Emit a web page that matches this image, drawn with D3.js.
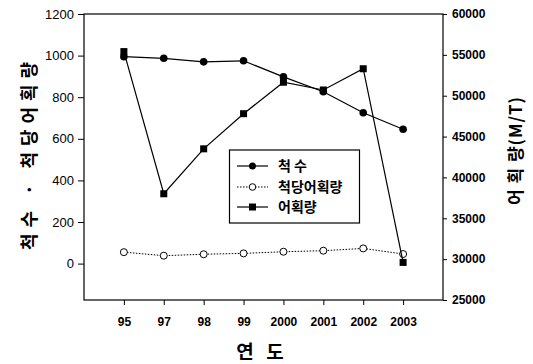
<!DOCTYPE html>
<html>
<head>
<meta charset="utf-8">
<script src="https://cdn.jsdelivr.net/npm/d3@7"></script>
<style>
  html, body { margin: 0; padding: 0; background: #fff; }
  svg { display: block; }
  .kr { font-family: "Noto Sans CJK KR", sans-serif; }
  .num { font-family: "Liberation Sans", Arial, sans-serif; }
</style>
</head>
<body>
<svg id="chart" width="533" height="364"></svg>
<script>
// Year labels along the x axis
const years = ["95", "97", "98", "99", "2000", "2001", "2002", "2003"];
// Number of vessels (left axis)
const vessels = [995, 987, 970, 975, 898, 826, 725, 646];
// Catch per vessel (left axis)
const catchPerVessel = [55, 38, 45, 49, 57, 62, 73, 46];
// Total catch in M/T (right axis)
const totalCatch = [55400, 38000, 43500, 47800, 51650, 50700, 53300, 29600];
// Tick values
const leftTicks = [0, 200, 400, 600, 800, 1000, 1200];
const rightTicks = [25000, 30000, 35000, 40000, 45000, 50000, 55000, 60000];
// Legend entries
const legendLabels = ["척 수", "척당어획량", "어획량"];

const svg = d3.select("#chart");
const plot = { left: 84, right: 443, top: 14, bottom: 300 };

const x = d3.scalePoint().domain(years).range([plot.left, plot.right]).padding(1);
const yL = d3.scaleLinear().domain([-175, 1200]).range([plot.bottom, plot.top]);
const yR = d3.scaleLinear().domain([25000, 60000]).range([plot.bottom, plot.top]);

// frame
svg.append("rect")
  .attr("x", plot.left).attr("y", plot.top)
  .attr("width", plot.right - plot.left).attr("height", plot.bottom - plot.top)
  .attr("fill", "none").attr("stroke", "#000").attr("stroke-width", 1.2);

// left axis
const gL = svg.append("g").attr("transform", `translate(${plot.left},0)`)
  .call(d3.axisLeft(yL).tickValues(leftTicks).tickFormat(d3.format("d")).tickSize(6).tickPadding(4));
gL.select(".domain").remove();
gL.selectAll("text").attr("class", "num").attr("font-size", 13).attr("fill", "#000");
gL.selectAll("line").attr("stroke", "#000");

// right axis
const gR = svg.append("g").attr("transform", `translate(${plot.right},0)`)
  .call(d3.axisRight(yR).tickValues(rightTicks).tickFormat(d3.format("d")).tickSize(4).tickPadding(5));
gR.select(".domain").remove();
gR.selectAll("text").attr("class", "num").attr("font-size", 12).attr("font-weight", "bold").attr("fill", "#000");
gR.selectAll("line").attr("stroke", "#000");

// bottom axis
const gB = svg.append("g").attr("transform", `translate(0,${plot.bottom})`)
  .call(d3.axisBottom(x).tickSize(5).tickPadding(12));
gB.select(".domain").remove();
gB.selectAll("text").attr("class", "num").attr("font-size", 12).attr("font-weight", "bold").attr("fill", "#000");
gB.selectAll("line").attr("stroke", "#000");

// vertical title spread between two y positions (reading bottom to top)
function verticalTitle(label, cx, yStart, yEnd, size) {
  const t = svg.append("text").attr("class", "kr")
    .attr("transform", `translate(${cx},${yStart}) rotate(-90)`)
    .attr("text-anchor", "start").attr("dy", "0.35em")
    .attr("font-size", size).attr("font-weight", "bold")
    .text(label);
  const natural = t.node().getComputedTextLength();
  const n = Array.from(label).length;
  const gap = Math.max(0, (yStart - yEnd - natural) / (n - 1));
  t.attr("letter-spacing", gap);
  return t;
}
verticalTitle("척수 · 척당어획량", 30, 250, 62, 18);
verticalTitle("어 획 량(M/T)", 516, 205, 97, 17);

svg.append("text").attr("class", "kr")
  .attr("x", 262).attr("y", 359)
  .attr("text-anchor", "middle").attr("font-size", 19).attr("font-weight", "bold")
  .attr("letter-spacing", 4)
  .text("연 도");

const line = (vals, ys) => d3.line().x((d, i) => x(years[i])).y(d => ys(d))(vals);

// catch per vessel: dotted line, open circles
svg.append("path").attr("d", line(catchPerVessel, yL))
  .attr("fill", "none").attr("stroke", "#000").attr("stroke-width", 1).attr("stroke-dasharray", "1.5,1.5");
svg.selectAll(".cpv").data(catchPerVessel).enter().append("circle")
  .attr("cx", (d, i) => x(years[i])).attr("cy", d => yL(d)).attr("r", 3.5)
  .attr("fill", "#fff").attr("stroke", "#000").attr("stroke-width", 1);

// vessels: solid line, filled circles
svg.append("path").attr("d", line(vessels, yL))
  .attr("fill", "none").attr("stroke", "#000").attr("stroke-width", 1.2);
svg.selectAll(".ves").data(vessels).enter().append("circle")
  .attr("cx", (d, i) => x(years[i])).attr("cy", d => yL(d)).attr("r", 3.8)
  .attr("fill", "#000");

// total catch: solid line, filled squares
svg.append("path").attr("d", line(totalCatch, yR))
  .attr("fill", "none").attr("stroke", "#000").attr("stroke-width", 1.2);
svg.selectAll(".tc").data(totalCatch).enter().append("rect")
  .attr("x", (d, i) => x(years[i]) - 3.5).attr("y", d => yR(d) - 3.5)
  .attr("width", 7).attr("height", 7).attr("fill", "#000");

// legend
const lg = svg.append("g");
lg.append("rect").attr("x", 229.5).attr("y", 150).attr("width", 130).attr("height", 73)
  .attr("fill", "#fff").attr("stroke", "#000").attr("stroke-width", 1.2);
const rowsY = [166, 187, 207];
legendLabels.forEach((lab, i) => {
  const yy = rowsY[i];
  lg.append("line").attr("x1", 237).attr("x2", 268).attr("y1", yy).attr("y2", yy)
    .attr("stroke", "#000").attr("stroke-width", i === 1 ? 1 : 1.2)
    .attr("stroke-dasharray", i === 1 ? "1.5,1.5" : null);
  if (i === 0) lg.append("circle").attr("cx", 252.5).attr("cy", yy).attr("r", 3.5).attr("fill", "#000");
  if (i === 1) lg.append("circle").attr("cx", 252.5).attr("cy", yy).attr("r", 3.3).attr("fill", "#fff").attr("stroke", "#000");
  if (i === 2) lg.append("rect").attr("x", 249).attr("y", yy - 3.5).attr("width", 7).attr("height", 7).attr("fill", "#000");
  lg.append("text").attr("class", "kr").attr("x", 278).attr("y", yy).attr("dy", "0.35em")
    .attr("font-size", 14).attr("font-weight", "bold").text(lab);
});
</script>
</body>
</html>
